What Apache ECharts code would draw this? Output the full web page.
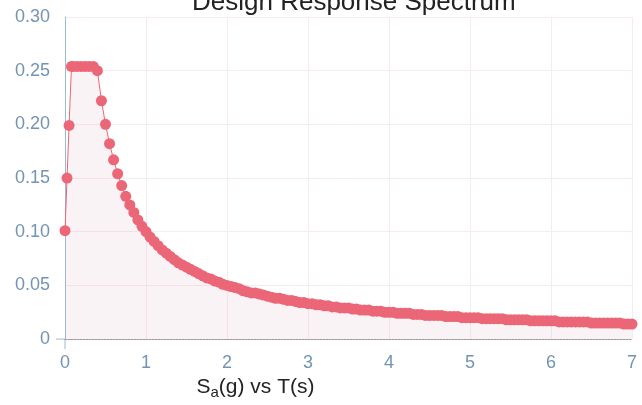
<!DOCTYPE html>
<html lang="en">
<head>
    <meta charset="UTF-8">
    <title>Design Response Spectrum</title>
    <script src="https://cdn.jsdelivr.net/npm/echarts@6.0.0/dist/echarts.min.js"></script>
    <style>
        html, body { margin: 0; padding: 0; background: #fff; }
        #chart { width: 642px; height: 405px; }
    </style>
</head>
<body>
    <div id="chart"></div>
    <script>
        // period T (s)
        const periods = [
            0, 0.025, 0.05, 0.08, 0.1, 0.15, 0.2, 0.25, 0.3, 0.35, 0.4,
            0.45, 0.5, 0.55, 0.6, 0.65, 0.7, 0.75, 0.8, 0.85, 0.9, 0.95, 1.0,
            1.05, 1.1, 1.15, 1.2, 1.25, 1.3, 1.35, 1.4, 1.45, 1.5, 1.55, 1.6, 1.65, 1.7, 1.75, 1.8, 1.85, 1.9, 1.95, 2.0,
            2.05, 2.1, 2.15, 2.2, 2.25, 2.3, 2.35, 2.4, 2.45, 2.5, 2.55, 2.6, 2.65, 2.7, 2.75, 2.8, 2.85, 2.9, 2.95, 3.0,
            3.05, 3.1, 3.15, 3.2, 3.25, 3.3, 3.35, 3.4, 3.45, 3.5, 3.55, 3.6, 3.65, 3.7, 3.75, 3.8, 3.85, 3.9, 3.95, 4.0,
            4.05, 4.1, 4.15, 4.2, 4.25, 4.3, 4.35, 4.4, 4.45, 4.5, 4.55, 4.6, 4.65, 4.7, 4.75, 4.8, 4.85, 4.9, 4.95, 5.0,
            5.05, 5.1, 5.15, 5.2, 5.25, 5.3, 5.35, 5.4, 5.45, 5.5, 5.55, 5.6, 5.65, 5.7, 5.75, 5.8, 5.85, 5.9, 5.95, 6.0,
            6.05, 6.1, 6.15, 6.2, 6.25, 6.3, 6.35, 6.4, 6.45, 6.5, 6.55, 6.6, 6.65, 6.7, 6.75, 6.8, 6.85, 6.9, 6.95, 7.0
        ];
        // spectral acceleration Sa (g)
        const sa = [
            0.101, 0.150, 0.199, 0.254, 0.254, 0.254, 0.254, 0.254, 0.254, 0.254, 0.250,
            0.222, 0.200, 0.182, 0.167, 0.154, 0.143, 0.133, 0.125, 0.118, 0.111, 0.105, 0.100,
            0.095, 0.091, 0.087, 0.083, 0.080, 0.077, 0.074, 0.071, 0.069, 0.067, 0.065, 0.063, 0.061, 0.059, 0.057, 0.056, 0.054, 0.053, 0.051, 0.050,
            0.049, 0.048, 0.047, 0.045, 0.044, 0.043, 0.043, 0.042, 0.041, 0.040, 0.039, 0.038, 0.038, 0.037, 0.036, 0.036, 0.035, 0.034, 0.034, 0.033,
            0.033, 0.032, 0.032, 0.031, 0.031, 0.030, 0.030, 0.029, 0.029, 0.029, 0.028, 0.028, 0.027, 0.027, 0.027, 0.026, 0.026, 0.026, 0.025, 0.025,
            0.025, 0.024, 0.024, 0.024, 0.024, 0.023, 0.023, 0.023, 0.022, 0.022, 0.022, 0.022, 0.022, 0.021, 0.021, 0.021, 0.021, 0.020, 0.020, 0.020,
            0.020, 0.020, 0.019, 0.019, 0.019, 0.019, 0.019, 0.019, 0.018, 0.018, 0.018, 0.018, 0.018, 0.018, 0.017, 0.017, 0.017, 0.017, 0.017, 0.017,
            0.017, 0.016, 0.016, 0.016, 0.016, 0.016, 0.016, 0.016, 0.016, 0.015, 0.015, 0.015, 0.015, 0.015, 0.015, 0.015, 0.015, 0.014, 0.014, 0.014
        ];
        const xTicks = [0, 1, 2, 3, 4, 5, 6, 7];
        const yTicks = [0, 0.05, 0.10, 0.15, 0.20, 0.25, 0.30];

        const labelColor = '#7394b4';
        const axisBlue = '#9dbad3';
        const gridColor = '#f7ebee';
        const pink = '#eb6676';

        const chart = echarts.init(document.getElementById('chart'));

        chart.setOption({
            animation: false,
            title: {
                text: 'Design Response Spectrum',
                left: 187,
                top: -15,
                textStyle: { fontFamily: 'Liberation Sans', fontSize: 26, fontWeight: 'normal', color: '#222' }
            },
            grid: { left: 65, right: 10, top: 17, bottom: 63 },
            xAxis: {
                type: 'value',
                min: xTicks[0],
                max: xTicks[xTicks.length - 1],
                interval: 1,
                name: 'S{sub|a}(g) vs T(s)',
                nameLocation: 'middle',
                nameGap: 31,
                nameTextStyle: {
                    fontFamily: 'Liberation Sans', fontSize: 21, color: '#222',
                    padding: [0, 186, 0, 0],
                    rich: { sub: { fontFamily: 'Liberation Sans', fontSize: 15, color: '#222', padding: [10, 0, 0, 0] } }
                },
                axisLine: { show: true, lineStyle: { color: '#9a9a9a', type: [2, 1], width: 1 } },
                axisTick: { show: false },
                axisLabel: { color: labelColor, fontFamily: 'Liberation Sans', fontSize: 18, margin: 15 },
                splitLine: { show: true, lineStyle: { color: gridColor } }
            },
            yAxis: {
                type: 'value',
                min: 0,
                max: yTicks[yTicks.length - 1],
                interval: 0.05,
                axisLine: { show: true, lineStyle: { color: axisBlue } },
                axisTick: { show: false },
                axisLabel: {
                    color: labelColor, fontFamily: 'Liberation Sans', fontSize: 18, margin: 15,
                    formatter: v => (v === 0 ? '0' : v.toFixed(2))
                },
                splitLine: { show: true, lineStyle: { color: gridColor } }
            },
            series: [{
                type: 'line',
                data: periods.map((t, i) => [t, sa[i]]),
                symbol: 'circle',
                symbolSize: 11,
                showAllSymbol: true,
                itemStyle: { color: pink },
                lineStyle: { color: pink, width: 1 },
                areaStyle: { color: 'rgba(215, 160, 180, 0.18)' }
            }]
        });

        // small ticks only at the origin, placed through the axis scales
        const origin = chart.convertToPixel({ gridIndex: 0 }, [0, 0]);
        chart.setOption({
            graphic: [
                { type: 'line', shape: { x1: origin[0] - 9, y1: origin[1], x2: origin[0], y2: origin[1] }, style: { stroke: axisBlue, lineWidth: 1 } },
                { type: 'line', shape: { x1: origin[0], y1: origin[1], x2: origin[0], y2: origin[1] + 10 }, style: { stroke: axisBlue, lineWidth: 1 } }
            ]
        });
    </script>
</body>
</html>
